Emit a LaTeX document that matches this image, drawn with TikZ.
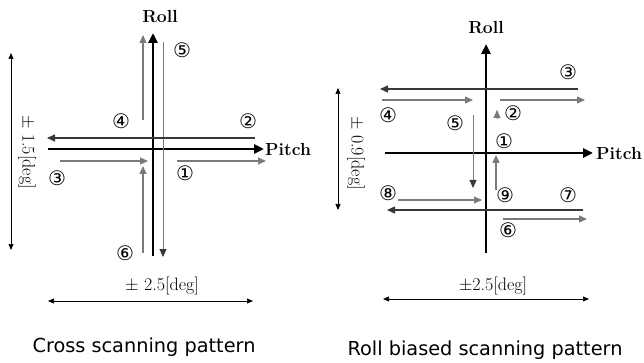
\documentclass[tikz,border=0pt]{standalone}
\usepackage{fontspec}
\newfontfamily\cirfont{DejaVu Sans}
\newfontfamily\capfont{DejaVu Sans}
\usetikzlibrary{arrows.meta}
\definecolor{scandark}{HTML}{383838}
\definecolor{scangray}{HTML}{7A7A7A}
\begin{document}
\begin{tikzpicture}[x=1pt,y=-1pt,
  axisline/.style={line width=2.5pt,black,-{Triangle[length=10pt,width=9pt]}},
  darkscan/.style={line width=1.4pt,scandark,-{Triangle[length=8pt,width=7pt]}},
  grayscan/.style={line width=1.2pt,scangray,-{Triangle[length=8pt,width=7pt]}},
  grayhead/.style={line width=1.0pt,scangray,-{Triangle[length=8pt,width=7pt,color=scandark]}},
  dimline/.style={line width=0.7pt,black,{Triangle[length=6pt,width=5pt]}-{Triangle[length=6pt,width=5pt]}},
  cnum/.style={font=\cirfont\fontsize{20}{20}\selectfont,inner sep=0pt},
  axlbl/.style={font=\fontsize{17.5}{17.5}\selectfont\bfseries,inner sep=0pt},
  dimlbl/.style={font=\fontsize{18}{18}\selectfont,inner sep=0pt},
  caplbl/.style={font=\capfont\fontsize{19.3}{19.3}\selectfont,inner sep=0pt}]
\useasboundingbox (0,0) rectangle (644,363);

% ---------------- Left: cross scanning ----------------
\coordinate (lrollS) at (153,256);
\coordinate (lrollE) at (153,33);
\coordinate (lpitS) at (48,149);
\coordinate (lpitE) at (264,149);
\draw[axisline] (lrollS) -- (lrollE);
\draw[axisline] (lpitS) -- (lpitE);
\node[axlbl] (lroll) at (160,17) {Roll};
\node[axlbl,anchor=west] (lpitch) at (265,149) {Pitch};

\coordinate (l4s) at (143,120); \coordinate (l4e) at (143,35);
\coordinate (l5s) at (163,42);  \coordinate (l5e) at (163,257);
\coordinate (l2s) at (255,138); \coordinate (l2e) at (47,138);
\coordinate (l3s) at (60,161);  \coordinate (l3e) at (148,161);
\coordinate (l1s) at (177,161); \coordinate (l1e) at (266,161);
\coordinate (l6s) at (143,253); \coordinate (l6e) at (143,166);
\draw[grayscan] (l4s) -- (l4e);
\draw[grayhead] (l5s) -- (l5e);
\draw[darkscan] (l2s) -- (l2e);
\draw[grayscan] (l3s) -- (l3e);
\draw[grayscan] (l1s) -- (l1e);
\draw[grayscan] (l6s) -- (l6e);

\node[cnum] (ln5) at (182,50) {⑤};
\node[cnum] (ln2) at (248,121) {②};
\node[cnum] (ln4) at (121,121) {④};
\node[cnum] (ln3) at (57,178) {③};
\node[cnum] (ln1) at (185,173) {①};
\node[cnum] (ln6) at (125,253) {⑥};

\coordinate (lvdS) at (11,53); \coordinate (lvdE) at (11,250);
\draw[dimline] (lvdS) -- (lvdE);
\node[dimlbl,rotate=-90] (lvl) at (27,152) {$\pm$ 1.5[deg]};
\coordinate (lhdS) at (48,301); \coordinate (lhdE) at (253,301);
\draw[dimline] (lhdS) -- (lhdE);
\node[dimlbl] (lhl) at (162,286) {$\pm$ 2.5[deg]};
\node[caplbl] (lcap) at (144,347) {Cross scanning pattern};

% ---------------- Right: roll biased scanning ----------------
\coordinate (rrollS) at (486,253);
\coordinate (rrollE) at (486,44);
\coordinate (rpitS) at (385,153);
\coordinate (rpitE) at (593,153);
\draw[axisline] (rrollS) -- (rrollE);
\draw[axisline] (rpitS) -- (rpitE);
\node[axlbl] (rroll) at (486,28) {Roll};
\node[axlbl,anchor=west] (rpitch) at (596,153) {Pitch};

\coordinate (r3s) at (578,89);  \coordinate (r3e) at (380,89);
\coordinate (r4s) at (382,100); \coordinate (r4e) at (473,100);
\coordinate (r2s) at (500,100); \coordinate (r2e) at (585,100);
\coordinate (r5s) at (473,115); \coordinate (r5e) at (473,188);
\coordinate (rts) at (497,118); \coordinate (rte) at (497,110);
\coordinate (r9s) at (496,190); \coordinate (r9e) at (496,155);
\coordinate (r8s) at (398,200); \coordinate (r8e) at (482,200);
\coordinate (r7s) at (583,210); \coordinate (r7e) at (387,210);
\coordinate (r6s) at (503,219); \coordinate (r6e) at (587,219);
\draw[darkscan] (r3s) -- (r3e);
\draw[grayscan] (r4s) -- (r4e);
\draw[grayscan] (r2s) -- (r2e);
\draw[grayhead] (r5s) -- (r5e);
\draw[scangray,line width=0.1pt,-{Triangle[length=8pt,width=7pt]}] (rts) -- (rte);
\draw[grayscan] (r9s) -- (r9e);
\draw[grayscan] (r8s) -- (r8e);
\draw[darkscan] (r7s) -- (r7e);
\draw[grayscan] (r6s) -- (r6e);

\node[cnum] (rn3) at (568,72) {③};
\node[cnum] (rn4) at (388,115) {④};
\node[cnum] (rn5) at (455,123) {⑤};
\node[cnum] (rn2) at (513,113) {②};
\node[cnum] (rn1) at (504,141) {①};
\node[cnum] (rn8) at (388,193) {⑧};
\node[cnum] (rn9) at (505,195) {⑨};
\node[cnum] (rn7) at (568,195) {⑦};
\node[cnum] (rn6) at (508,230) {⑥};

\coordinate (rvdS) at (338,88); \coordinate (rvdE) at (338,210);
\draw[dimline] (rvdS) -- (rvdE);
\node[dimlbl,rotate=-90] (rvl) at (356,153) {$\pm$ 0.9[deg]};
\coordinate (rhdS) at (383,299); \coordinate (rhdE) at (589,299);
\draw[dimline] (rhdS) -- (rhdE);
\node[dimlbl] (rhl) at (493,286) {$\pm$2.5[deg]};
\node[caplbl] (rcap) at (485,350) {Roll biased scanning pattern};
\end{tikzpicture}
\end{document}
